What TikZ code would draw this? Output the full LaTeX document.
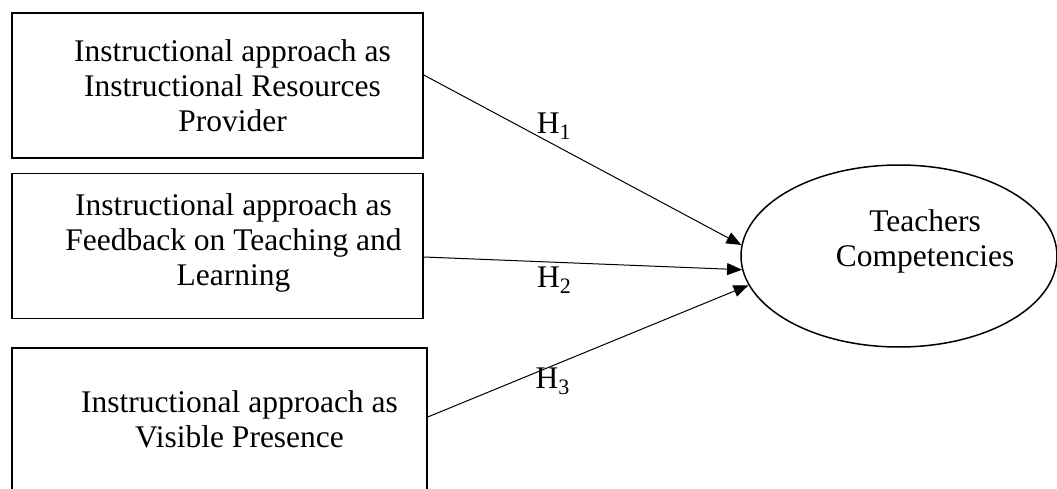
\documentclass[tikz,border=0pt]{standalone}
\usepackage{fontspec}
\setmainfont{Liberation Serif}
\usepackage{tikz}
\usetikzlibrary{shapes.geometric,arrows.meta}

\begin{document}
\begin{tikzpicture}[x=1pt,y=-1pt,
    factor/.style={draw,line width=1.5pt,minimum width=411pt,minimum height=145pt,inner sep=0pt},
    intext/.style={align=center,font=\fontsize{31.5}{35}\selectfont},
    outcome/.style={ellipse,draw,line width=1.5pt,minimum width=316pt,minimum height=182pt,inner sep=0pt},
    hyp/.style={-{Triangle[length=15pt,width=12pt]},line width=1pt},
    hlabel/.style={font=\fontsize{31.5}{35}\selectfont}]
  \useasboundingbox (0,0) rectangle (1057,489);
  % three approaches
  \node[factor,label={[intext,xshift=15pt,yshift=0pt]center:{Instructional approach as\\Instructional Resources\\Provider}}](res)at(217.5,85.5){};
  \node[factor,label={[intext,xshift=16pt,yshift=3pt]center:{Instructional approach as\\Feedback on Teaching and\\Learning}}](fb)at(217.5,246){};
  \node[factor,minimum width=415pt,label={[intext,xshift=20pt,yshift=1pt]center:{Instructional approach as\\Visible Presence}}](vis)at(219.5,420.5){};
  % outcome
  \node[outcome,label={[intext,xshift=26pt,yshift=15pt]center:{Teachers\\Competencies}}](tc)at(899,256){};
  % hypotheses
  \draw[hyp]([yshift=10.5pt]res.east)--(tc.176.8) node[hlabel,pos=.41,above=1pt]{H\textsubscript{1}};
  \draw[hyp]([yshift=-11pt]fb.east)--(tc.185.5) node[hlabel,pos=.41,below=1pt]{H\textsubscript{2}};
  \draw[hyp]([yshift=3.5pt]vis.east)--(tc.191.8) node[hlabel,pos=.39,below=-2pt]{H\textsubscript{3}};
\end{tikzpicture}
\end{document}
